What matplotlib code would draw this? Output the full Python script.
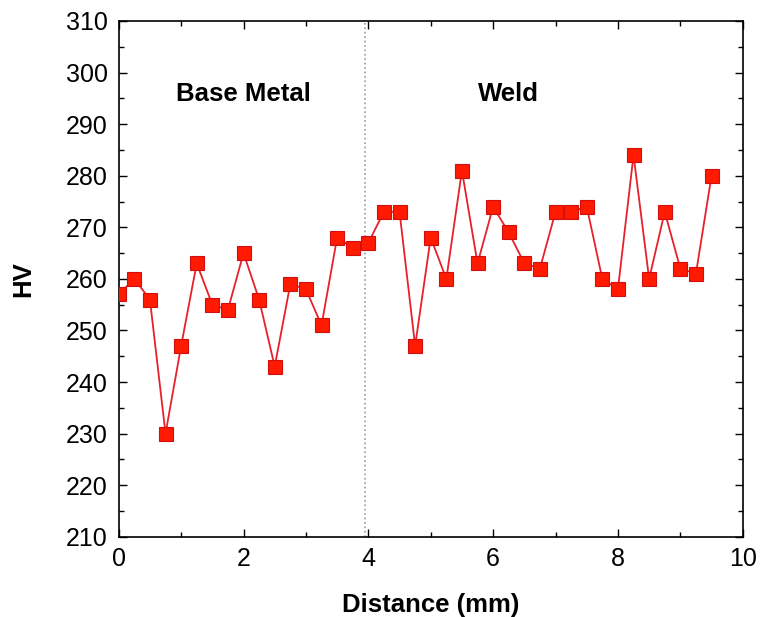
import matplotlib
matplotlib.use("Agg")
import matplotlib.pyplot as plt
from matplotlib.ticker import MultipleLocator

plt.rcParams['font.family'] = ['Liberation Sans', 'DejaVu Sans']

distance = [0, 0.25, 0.5, 0.75, 1.0, 1.25, 1.5, 1.75, 2.0, 2.25, 2.5, 2.75, 3.0, 3.25,
            3.5, 3.75, 4.0, 4.25, 4.5, 4.75, 5.0, 5.25, 5.5, 5.75, 6.0, 6.25, 6.5, 6.75,
            7.0, 7.25, 7.5, 7.75, 8.0, 8.25, 8.5, 8.75, 9.0, 9.25, 9.5]
hv = [257, 260, 256, 230, 247, 263, 255, 254, 265, 256, 243, 259, 258, 251,
      268, 266, 267, 273, 273, 247, 268, 260, 281, 263, 274, 269, 263, 262,
      273, 273, 274, 260, 258, 284, 260, 273, 262, 261, 280]
boundary = 3.95
regions = ["Base Metal", "Weld"]
region_x = [2.0, 6.25]

fig = plt.figure(figsize=(7.61, 6.17), dpi=100)
ax = fig.add_axes([0.156, 0.130, 0.820, 0.836])

ax.axvline(boundary, color='#999999', linestyle=':', linewidth=1.2, zorder=1)
ax.plot(distance, hv, color='#e8202a', linewidth=1.3, marker='s', markersize=10.5,
        markerfacecolor='#ff1a00', markeredgecolor='#d01010', markeredgewidth=0.8, zorder=3)

for name, xx in zip(regions, region_x):
    ax.text(xx, 295.8, name, ha='center', va='center', fontsize=18.5, fontweight='bold')

ax.set_xlim(0, 10)
ax.set_ylim(210, 310)
ax.xaxis.set_major_locator(MultipleLocator(2))
ax.xaxis.set_minor_locator(MultipleLocator(1))
ax.yaxis.set_major_locator(MultipleLocator(10))
ax.yaxis.set_minor_locator(MultipleLocator(5))
ax.tick_params(which='both', direction='in', top=True, right=True, labelsize=18)
ax.tick_params(axis='y', which='both', pad=8)
ax.tick_params(axis='x', which='both', pad=7)
ax.tick_params(which='major', length=5.5, width=1)
ax.tick_params(which='minor', length=3.5, width=1)
for s in ax.spines.values():
    s.set_linewidth(1.2)

ax.set_xlabel('Distance (mm)', fontsize=18.5, fontweight='bold', labelpad=16)
ax.set_ylabel('HV', fontsize=18.5, fontweight='bold', labelpad=22)

fig.savefig('out.png', dpi=100)
